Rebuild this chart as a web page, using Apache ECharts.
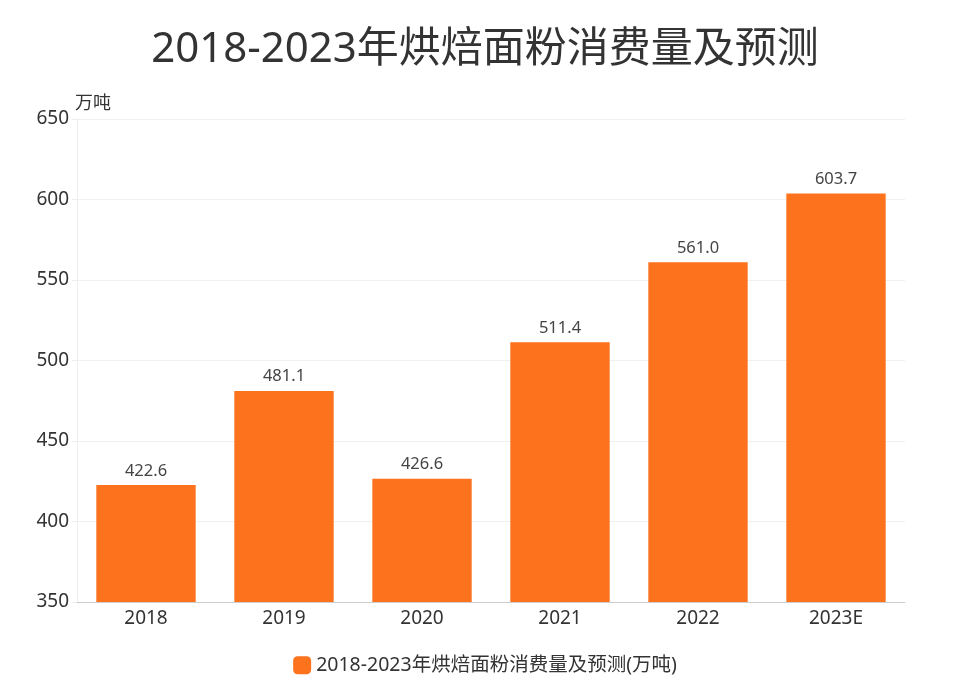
<!DOCTYPE html>
<html><head><meta charset="utf-8">
<script src="https://cdn.jsdelivr.net/npm/echarts@6/dist/echarts.min.js"></script>
<style>html,body{margin:0;padding:0;background:#fff}#c{width:970px;height:688px}</style>
</head><body><div id="c"></div>
<script>
const categories = ['2018','2019','2020','2021','2022','2023E'];
const values = [422.6, 481.1, 426.6, 511.4, 561.0, 603.7];
const seriesName = '2018-2023年烘焙面粉消费量及预测(万吨)';
const titleText = '2018-2023年烘焙面粉消费量及预测';
const font = '"Noto Sans", "Noto Sans CJK SC", sans-serif';
const chart = echarts.init(document.getElementById('c'));
chart.setOption({
  textStyle:{fontFamily:font},
  title:{text:titleText,left:'center',top:24,textStyle:{fontSize:42,fontWeight:'normal',color:'#333',fontFamily:font}},
  legend:{bottom:8,itemWidth:18,itemHeight:18,itemGap:10,icon:'roundRect',textStyle:{fontSize:19.5,color:'#333',fontFamily:font},data:[seriesName]},
  grid:{left:77,right:65,top:119,bottom:86},
  xAxis:{type:'category',data:categories,axisTick:{alignWithLabel:true,lineStyle:{color:'#ccc'}},axisLine:{lineStyle:{color:'#ccc'}},axisLabel:{fontSize:19,color:'#333',margin:7}},
  yAxis:{type:'value',min:350,max:650,interval:50,name:'万吨',nameGap:6,nameTextStyle:{fontSize:18,color:'#333',align:'left',padding:[0,0,0,-2]},
    axisLine:{show:true,lineStyle:{color:'#eee'}},axisTick:{show:true,lineStyle:{color:'#eee'}},
    axisLabel:{fontSize:19,color:'#333',margin:8},splitLine:{lineStyle:{color:'#f0f0f0'}}},
  series:[{name:seriesName,type:'bar',data:values,barWidth:'72%',itemStyle:{color:'#FD721D'},
    label:{show:true,position:'top',distance:6,fontSize:16.5,color:'#444',formatter:p=>p.value.toFixed(1)}}]
});
</script></body></html>
